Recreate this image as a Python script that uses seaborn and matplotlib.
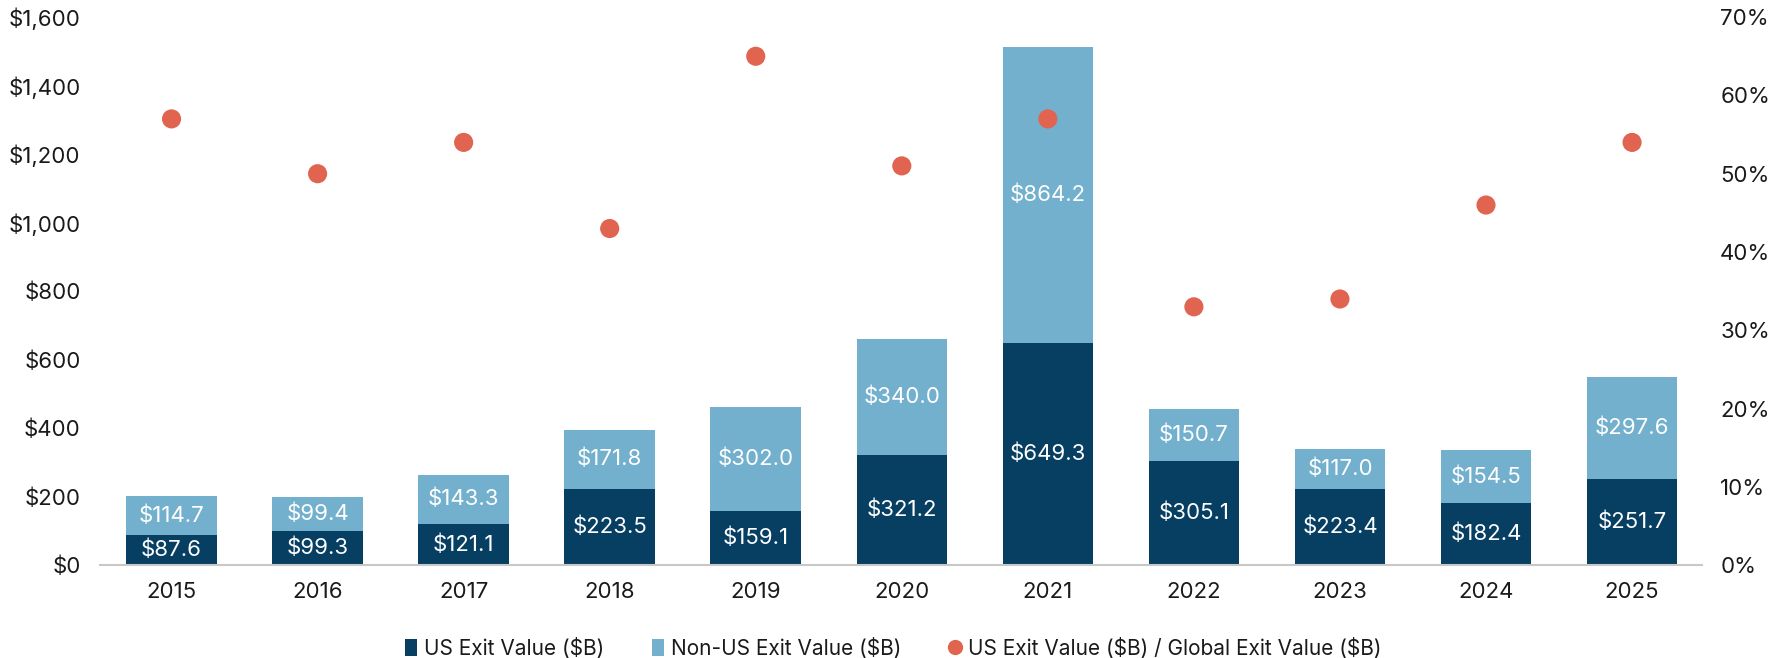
import matplotlib
matplotlib.use("Agg")
import matplotlib.pyplot as plt
from matplotlib.patches import Patch
from matplotlib.lines import Line2D
from matplotlib.ticker import FuncFormatter
import seaborn as sns
import pandas as pd

years = ["2015", "2016", "2017", "2018", "2019", "2020", "2021", "2022", "2023", "2024", "2025"]
us_value = [87.6, 99.3, 121.1, 223.5, 159.1, 321.2, 649.3, 305.1, 223.4, 182.4, 251.7]
non_us_value = [114.7, 99.4, 143.3, 171.8, 302.0, 340.0, 864.2, 150.7, 117.0, 154.5, 297.6]
share_pct = [57, 50, 54, 43, 65, 51, 57, 33, 34, 46, 54]

DARK = "#073f63"
LIGHT = "#72b0cd"
RED = "#e06450"
TEXT = "#1a1a1a"

sns.set_theme(style="white")
plt.rcParams["font.family"] = ["Inter", "DejaVu Sans"]

df = pd.DataFrame({
    "year": years,
    "us": us_value,
    "non_us": non_us_value,
    "share": share_pct,
})
df["total"] = df["us"] + df["non_us"]

fig = plt.figure(figsize=(17.79, 6.58), dpi=100)
ax = fig.add_axes([0.0562, 0.141, 0.9006, 0.833])

# stacked bars: full height in light blue, US portion in navy on top
sns.barplot(data=df, x="year", y="total", color=LIGHT, width=0.62,
            saturation=1, ax=ax, edgecolor="none")
sns.barplot(data=df, x="year", y="us", color=DARK, width=0.62,
            saturation=1, ax=ax, edgecolor="none")

for i, row in df.iterrows():
    ax.text(i, row["us"] / 2, f"${row['us']:,.1f}", ha="center", va="center",
            color="white", fontsize=16)
    ax.text(i, row["us"] + row["non_us"] / 2, f"${row['non_us']:,.1f}",
            ha="center", va="center", color="white", fontsize=16)

ax.set_xlim(-0.49, 10.48)
ax.set_ylim(0, 1600)
ax.set_yticks(range(0, 1601, 200))
ax.yaxis.set_major_formatter(FuncFormatter(lambda v, p: f"${v:,.0f}"))
ax.set_xlabel("")
ax.set_ylabel("")
for s in ["top", "right", "left"]:
    ax.spines[s].set_visible(False)
ax.spines["bottom"].set_color("#c8c8c8")
ax.spines["bottom"].set_linewidth(1.5)
ax.tick_params(axis="y", length=0, pad=14, labelsize=16, labelcolor=TEXT)
ax.tick_params(axis="x", length=0, pad=12, labelsize=16, labelcolor=TEXT)

# share of global exit value on the secondary axis
ax2 = ax.twinx()
sns.scatterplot(data=df, x="year", y="share", color=RED, s=190,
                edgecolor="none", ax=ax2, legend=False, zorder=5)
ax2.set_ylim(0, 70)
ax2.set_yticks(range(0, 71, 10))
ax2.yaxis.set_major_formatter(FuncFormatter(lambda v, p: f"{v:.0f}%"))
ax2.set_ylabel("")
for s in ["top", "right", "left", "bottom"]:
    ax2.spines[s].set_visible(False)
ax2.tick_params(axis="y", length=0, pad=13, labelsize=16, labelcolor=TEXT)
ax2.set_xlim(-0.49, 10.48)

handles = [
    Patch(facecolor=DARK, edgecolor="none"),
    Patch(facecolor=LIGHT, edgecolor="none"),
    Line2D([0], [0], marker="o", linestyle="none", markerfacecolor=RED,
           markeredgecolor="none", markersize=11),
]
labels = [r"US Exit Value (\$B)", r"Non-US Exit Value (\$B)",
          r"US Exit Value (\$B) / Global Exit Value (\$B)"]
fig.legend(handles, labels, loc="lower center", bbox_to_anchor=(0.502, -0.03),
           ncol=3, frameon=False, fontsize=15, handlelength=0.6, handleheight=0.9,
           handletextpad=0.3, columnspacing=2.3, labelcolor=TEXT)

fig.savefig("out.png", dpi=100)
